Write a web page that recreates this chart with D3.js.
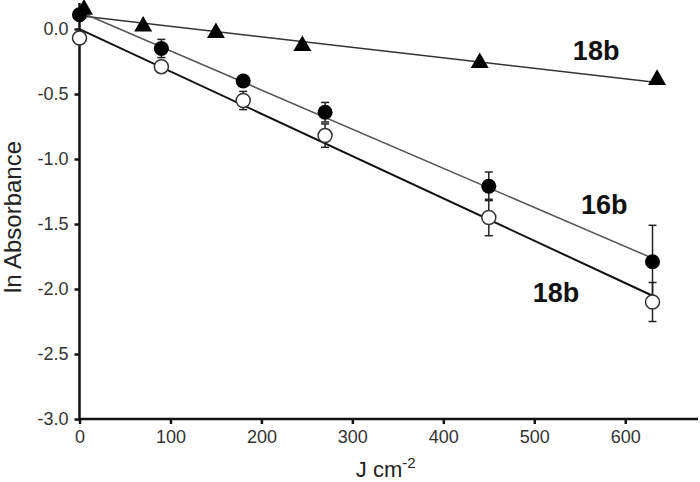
<!DOCTYPE html>
<html>
<head>
<meta charset="utf-8">
<script src="https://cdn.jsdelivr.net/npm/d3@7"></script>
<style>
  body { margin: 0; background: #fff; }
  svg { display: block; font-family: "Liberation Sans", Arial, sans-serif; }
</style>
</head>
<body>
<div id="chart"></div>
<script>
const w = 700, h = 482

// 18b (triangles)
const doseTri = [5, 70, 150, 245, 440, 635]
const lnATri = [0.15, 0.02, -0.03, -0.13, -0.26, -0.39]
// 16b (filled circles)
const doseFill = [0, 90, 180, 270, 450, 630]
const lnAFill = [0.11, -0.15, -0.40, -0.64, -1.21, -1.79]
const errFill = [0, 0.07, 0.03, 0.075, 0.11, 0.28]
// 18b (open circles)
const doseOpen = [0, 90, 180, 270, 450, 630]
const lnAOpen = [-0.07, -0.29, -0.55, -0.82, -1.45, -2.10]
const errOpen = [0, 0.03, 0.07, 0.09, 0.14, 0.15]

const xTicks = [0, 100, 200, 300, 400, 500, 600]
const yTicks = [0, -0.5, -1, -1.5, -2, -2.5, -3]

var margin = {top: 3, right: 2, bottom: 63, left: 79.5}

var xScale = d3.scaleLinear().domain([0, 680]).range([margin.left, w - margin.right])
var yScale = d3.scaleLinear().domain([-3, 0.2]).range([h - margin.bottom, margin.top])

var svg = d3.select("#chart").append("svg")
  .attr("width", w)
  .attr("height", h)

// linear least-squares fit
function fit(xs, ys) {
  var mx = d3.mean(xs), my = d3.mean(ys)
  var sxy = d3.sum(xs, (x, i) => (x - mx) * (ys[i] - my))
  var sxx = d3.sum(xs, x => (x - mx) * (x - mx))
  var b = sxy / sxx
  return {a: my - b * mx, b: b}
}

function fitLine(xs, ys, color, width) {
  var f = fit(xs, ys)
  var ends = d3.extent(xs)
  svg.append("line")
    .attr("x1", xScale(ends[0])).attr("y1", yScale(f.a + f.b * ends[0]))
    .attr("x2", xScale(ends[1])).attr("y2", yScale(f.a + f.b * ends[1]))
    .attr("stroke", color)
    .attr("stroke-width", width)
}

function errorBars(xs, ys, es) {
  xs.forEach(function (x, i) {
    if (!es[i]) return
    var cx = xScale(x)
    var g = svg.append("g").attr("stroke", "#222").attr("stroke-width", 1.5)
    g.append("line").attr("x1", cx).attr("x2", cx)
      .attr("y1", yScale(ys[i] - es[i])).attr("y2", yScale(ys[i] + es[i]))
    ;[ys[i] - es[i], ys[i] + es[i]].forEach(function (v) {
      g.append("line").attr("x1", cx - 4).attr("x2", cx + 4)
        .attr("y1", yScale(v)).attr("y2", yScale(v))
    })
  })
}

// axes
var fmt = d3.format(".1f")
var xAxis = d3.axisBottom(xScale).tickValues(xTicks).tickSize(5).tickPadding(6)
var yAxis = d3.axisLeft(yScale).tickValues(yTicks).tickSize(5).tickPadding(6)
  .tickFormat(d => fmt(d).replace("\u2212", "-"))

var gx = svg.append("g")
  .attr("transform", "translate(0," + (h - margin.bottom) + ")")
  .call(xAxis)
var gy = svg.append("g")
  .attr("transform", "translate(" + margin.left + ",0)")
  .call(yAxis)

;[gx, gy].forEach(function (g) {
  g.select(".domain").attr("stroke", "#111").attr("stroke-width", 2.5)
  g.selectAll(".tick line").attr("stroke", "#111").attr("stroke-width", 2.5)
  g.selectAll(".tick text").attr("fill", "#333").style("font-size", "18px")
})
gy.select(".domain").attr("d", "M0," + yScale(-3) + "V" + yScale(0.2))
gx.select(".domain").attr("d", "M" + xScale(0) + ",0H" + xScale(680))

// axis titles
svg.append("text")
  .attr("transform", "translate(21,217) rotate(-90)")
  .attr("text-anchor", "middle")
  .attr("fill", "#222")
  .style("font-size", "24px")
  .text("ln Absorbance")

var xl = svg.append("text")
  .attr("x", xScale(340) - 3)
  .attr("y", 477)
  .attr("text-anchor", "middle")
  .attr("fill", "#222")
  .style("font-size", "22px")
xl.append("tspan").text("J cm")
xl.append("tspan").attr("dy", -9).style("font-size", "15px").text("-2")

// fitted lines
fitLine(doseTri, lnATri, "#333", 1.5)
fitLine(doseFill, lnAFill, "#555", 1.5)
fitLine(doseOpen, lnAOpen, "#111", 2)

// error bars
errorBars(doseFill, lnAFill, errFill)
errorBars(doseOpen, lnAOpen, errOpen)

// markers
svg.selectAll(".tri").data(doseTri).enter().append("path")
  .attr("d", d3.symbol(d3.symbolTriangle, 140))
  .attr("transform", (d, i) => "translate(" + xScale(d) + "," + yScale(lnATri[i]) + ")")
  .attr("fill", "#000")

svg.selectAll(".fill").data(doseFill).enter().append("circle")
  .attr("cx", d => xScale(d))
  .attr("cy", (d, i) => yScale(lnAFill[i]))
  .attr("r", 7.5)
  .attr("fill", "#000")

svg.selectAll(".open").data(doseOpen).enter().append("circle")
  .attr("cx", d => xScale(d))
  .attr("cy", (d, i) => yScale(lnAOpen[i]))
  .attr("r", 7)
  .attr("fill", "#fff")
  .attr("stroke", "#333")
  .attr("stroke-width", 1.5)

// series labels
const labels = [
  {text: "18b", dose: 568, v: -0.24},
  {text: "16b", dose: 577, v: -1.42},
  {text: "18b", dose: 524, v: -2.10}
]
svg.selectAll(".lab").data(labels).enter().append("text")
  .attr("x", d => xScale(d.dose))
  .attr("y", d => yScale(d.v))
  .attr("text-anchor", "middle")
  .attr("fill", "#111")
  .style("font-size", "27px")
  .style("font-weight", "bold")
  .text(d => d.text)
</script>
</body>
</html>
